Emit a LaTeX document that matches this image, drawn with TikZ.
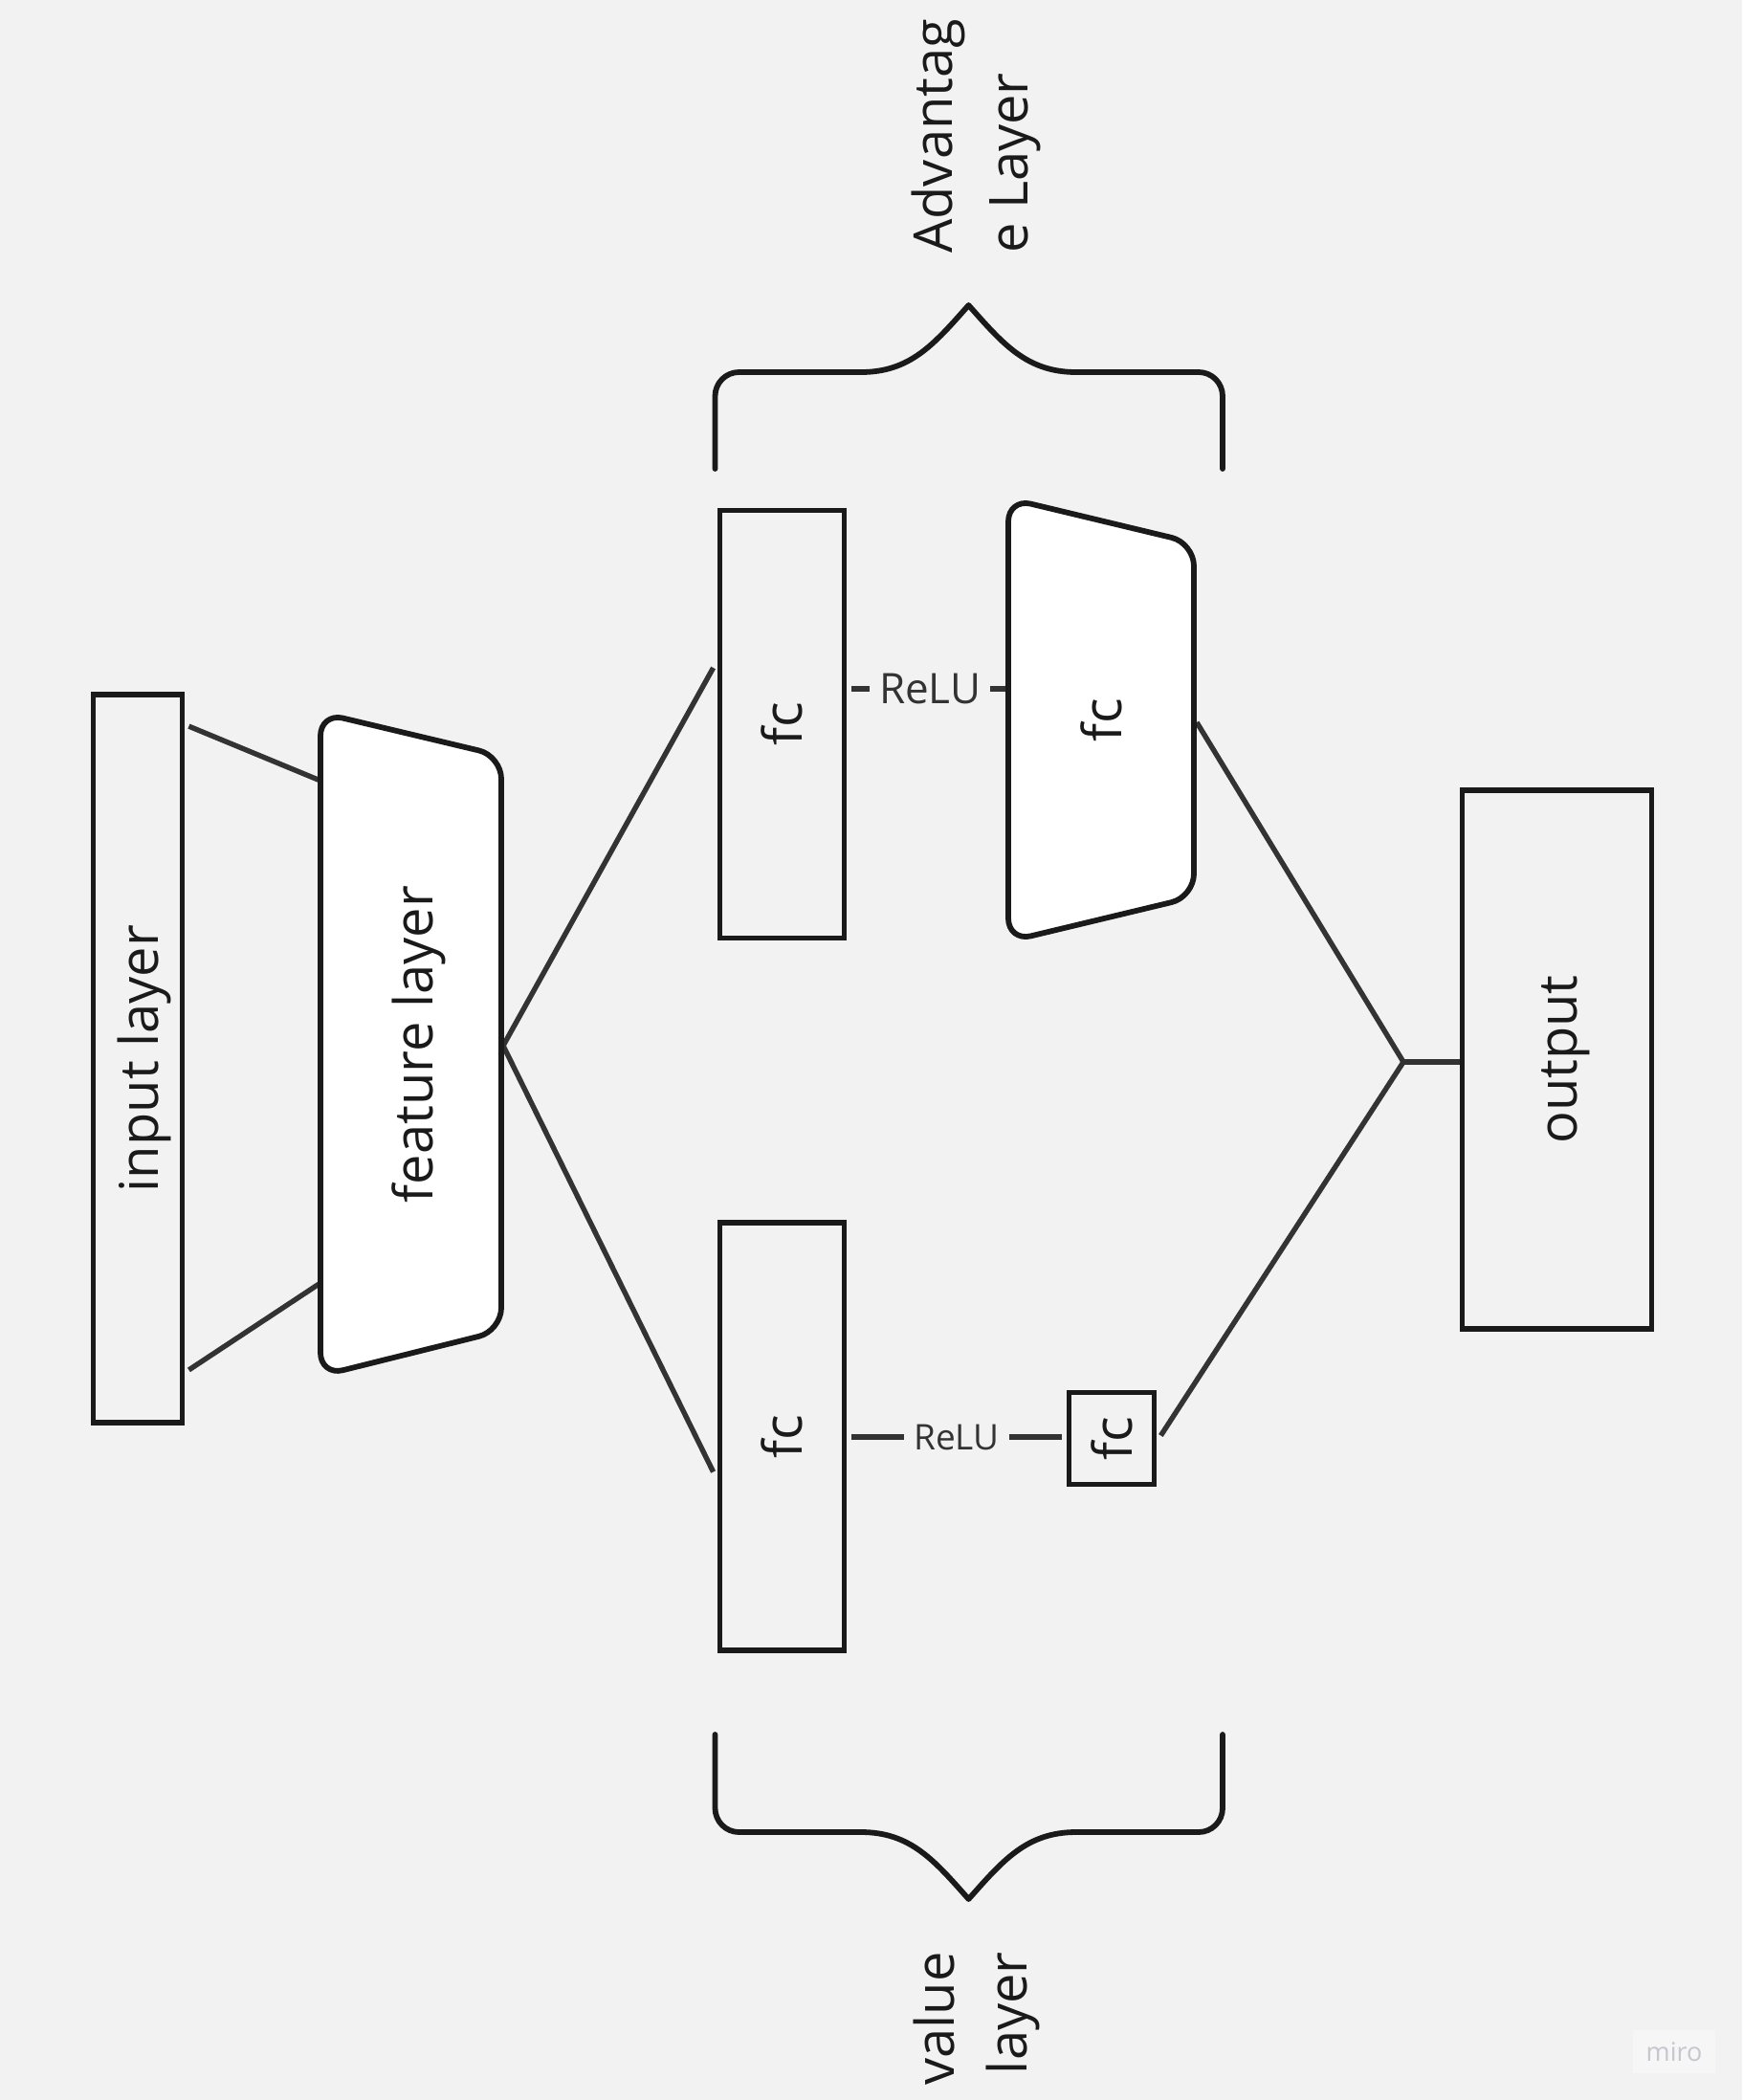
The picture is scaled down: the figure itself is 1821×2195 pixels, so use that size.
\documentclass[tikz,border=0pt]{standalone}
\usepackage{fontspec}
\setmainfont{Open Sans}
\usepackage{graphicx}
\usetikzlibrary{calc}
\definecolor{bg}{HTML}{F2F2F2}
\definecolor{ink}{HTML}{1A1A1A}
\definecolor{wire}{HTML}{333333}
\definecolor{mirotext}{HTML}{C6C6CE}
\definecolor{mirobox}{HTML}{F6F6F6}
\newcommand{\layerfont}{\fontsize{56}{70}\selectfont}
\newcommand{\mystrut}{\rule[-14pt]{0pt}{70pt}}
\tikzset{
  layerbox/.style={draw=ink, line width=5.8pt, inner sep=0pt, text=ink, font=\layerfont},
  wireline/.style={draw=wire, line width=5.4pt},
  relulabel/.style={fill=bg, text=wire, inner xsep=10pt, inner ysep=2pt},
  trap/.style={draw=ink, fill=white, line width=5.8pt, rounded corners=24pt, line join=round},
  brace/.style={draw=ink, line width=5.8pt, line cap=round, line join=round},
  rottext/.style={rotate=90, text=ink, font=\layerfont, inner sep=0pt}
}
\begin{document}
\begin{tikzpicture}[x=1pt,y=-1pt]
\fill[bg] (0,0) rectangle (1821,2195);
\useasboundingbox (0,0) rectangle (1821,2195);

% ---- boxes ----
\node[layerbox, minimum width=93pt, minimum height=761pt] (inp) at (144,1106.5) {\rotatebox{90}{\mystrut input layer}};
\node[layerbox, minimum width=130pt, minimum height=447pt] (fcA) at (817.5,757) {\rotatebox{90}{\mystrut fc}};
\node[layerbox, minimum width=130pt, minimum height=447pt] (fcB) at (817.5,1501.5) {\rotatebox{90}{\mystrut fc}};
\node[layerbox, minimum width=89pt, minimum height=96pt] (sq) at (1162,1503.5) {\rotatebox{90}{\mystrut fc}};
\node[layerbox, minimum width=198pt, minimum height=563pt] (out) at (1627.5,1107.5) {\rotatebox{90}{\mystrut output}};

% ---- connection points ----
\coordinate (featA) at (335,816);
\coordinate (featB) at (335,1341);
\coordinate (featR) at (526,1093);
\coordinate (advL) at (1054,720);
\coordinate (advR) at (1251,755);
\coordinate (J) at (1467,1110);

% ---- connectors ----
\draw[wireline] ($(inp.north east)+(4,36)$) -- (featA);
\draw[wireline] ($(inp.south east)+(4,-58)$) -- (featB);
\draw[wireline] (featR) -- ($(fcA.west)+(-4,-59)$);
\draw[wireline] (featR) -- ($(fcB.west)+(-4,37)$);
\draw[wireline] ($(fcA.east)+(5,-37)$) -- node[relulabel, font=\fontsize{44}{50}\selectfont] (reluA) {ReLU} (advL);
\draw[wireline] ($(fcB.east)+(5,0.5)$) -- node[relulabel, font=\fontsize{37}{44}\selectfont] (reluB) {ReLU} ($(sq.west)+(-5,-1.5)$);
\draw[wireline, line join=miter] (advR) -- (J) -- ($(sq.east)+(4,-3)$);
\draw[wireline] (J) -- (out.west |- J);

% ---- trapezoids ----
\coordinate (f1) at (335,745);
\coordinate (f2) at (524,790);
\coordinate (f3) at (524,1391);
\coordinate (f4) at (335,1438);
\draw[trap] (f1) -- (f2) -- (f3) -- (f4) -- cycle;
\node[rottext] (feat) at (431,1091.5) {\mystrut feature layer};

\coordinate (a1) at (1054,521);
\coordinate (a2) at (1248,567.5);
\coordinate (a3) at (1248,937.5);
\coordinate (a4) at (1054,984);
\draw[trap] (a1) -- (a2) -- (a3) -- (a4) -- cycle;
\node[rottext] (advfc) at (1151.5,752.5) {\mystrut fc};

% ---- braces ----
\draw[brace] (747.5,490) -- (747.5,414) .. controls (747.5,400.2) and (758.7,389) .. (772.5,389)
  -- (900,389) .. controls (952,389) and (977,359) .. (1012.5,319)
  .. controls (1048,359) and (1073,389) .. (1125,389)
  -- (1253,389) .. controls (1266.8,389) and (1278,400.2) .. (1278,414) -- (1278,490);
\draw[brace] (747.5,1813) -- (747.5,1890) .. controls (747.5,1903.8) and (758.7,1915) .. (772.5,1915)
  -- (900,1915) .. controls (952,1915) and (977,1945) .. (1012.5,1985)
  .. controls (1048,1945) and (1073,1915) .. (1125,1915)
  -- (1253,1915) .. controls (1266.8,1915) and (1278,1903.8) .. (1278,1890) -- (1278,1813);

% ---- brace labels ----
\node[rottext, anchor=base west] (advT1) at (995,265) {Advantag};
\node[rottext, anchor=base west] (advT2) at (1074,265) {e Layer};
\node[rottext, anchor=base east] (valT1) at (997,2040) {value};
\node[rottext, anchor=base east] (valT2) at (1073,2040) {layer};

% ---- watermark ----
\node[fill=mirobox, text=mirotext, minimum width=86pt, minimum height=45pt, inner sep=0pt,
      font=\fontsize{27}{30}\selectfont] (miro) at (1750,2144.5) {miro};
\end{tikzpicture}
\end{document}
